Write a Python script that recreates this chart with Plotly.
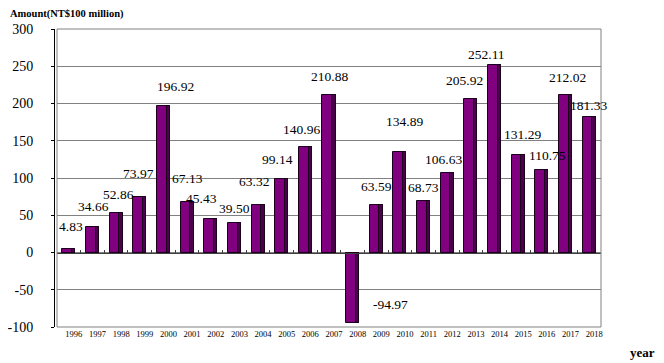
import plotly.graph_objects as go

years = list(range(1996, 2019))
tick_labels = [str(y) for y in years]
amounts = [4.83, 34.66, 52.86, 73.97, 196.92, 67.13, 45.43, 39.50, 63.32, 99.14,
           140.96, 210.88, -94.97, 63.59, 134.89, 68.73, 106.63, 205.92, 252.11,
           131.29, 110.75, 212.02, 181.33]
value_labels = ["4.83", "34.66", "52.86", "73.97", "196.92", "67.13", "45.43", "39.50",
                "63.32", "99.14", "140.96", "210.88", "-94.97", "63.59", "134.89", "68.73",
                "106.63", "205.92", "252.11", "131.29", "110.75", "212.02", "181.33"]
# pixel offsets of the value labels (style only)
label_dx = [2.5, 1, 2, -1, 12, 0, -9, 0, -4, -4, -4, 0, 38, 0, 5, 0, -4, -6, -8, 4, 5.5, 2, -1]
label_dy = [22, 20, 19, 24, 19, 24, 20, 15, 24, 19, 18, 19, 19, 19, 31, 14, 14, 19, 10, 20, 14, 17, 12]

y_ticks = [-100, -50, 0, 50, 100, 150, 200, 250, 300]
y_tick_labels = ["-100", "-50", "0", "50", "100", "150", "200", "250", "300"]

FONT = "Liberation Serif"
BAR_W = 0.55
STRIPE_W = 0.14

fig = go.Figure()
fig.add_trace(go.Bar(
    x=years, y=amounts, width=BAR_W, offset=-BAR_W / 2,
    marker=dict(color="#800080", line=dict(color="#1a001a", width=1)),
    hoverinfo="skip", showlegend=False,
))
fig.add_trace(go.Bar(
    x=years, y=amounts, width=STRIPE_W, offset=BAR_W / 2 - STRIPE_W,
    marker=dict(color="#4a004a", line=dict(color="#1a001a", width=1)),
    hoverinfo="skip", showlegend=False,
))
# axis-like line at zero with category-boundary ticks
fig.add_trace(go.Scatter(x=[years[0]], y=[0], xaxis="x2", mode="markers",
                         marker=dict(opacity=0), hoverinfo="skip", showlegend=False))

for yr, v, t, dx, dy in zip(years, amounts, value_labels, label_dx, label_dy):
    fig.add_annotation(x=yr, y=v, xref="x", yref="y", text=t, showarrow=False,
                       xshift=dx, yshift=dy, xanchor="center", yanchor="middle",
                       font=dict(family=FONT, size=13.5, color="black"))

fig.add_annotation(x=-0.084, y=1.0, xref="paper", yref="paper", yshift=15,
                   text="<b>Amount(NT$100 million)</b>", showarrow=False,
                   xanchor="left", yanchor="middle",
                   font=dict(family=FONT, size=10.5, color="black"))
fig.add_annotation(x=1.075, y=0, xref="paper", yref="paper", yshift=-25,
                   text="<b>year</b>", showarrow=False,
                   xanchor="center", yanchor="middle",
                   font=dict(family=FONT, size=13, color="black"))

# plot frame
fig.add_shape(type="rect", xref="x domain", yref="y domain", x0=0, x1=1, y0=0, y1=1,
              line=dict(color="#808080", width=1), layer="above")

fig.update_layout(
    width=656, height=355,
    margin=dict(l=46, r=63, t=21, b=36),
    paper_bgcolor="white", plot_bgcolor="white",
    barmode="overlay", bargap=0,
    xaxis=dict(
        domain=[0.0055, 1], range=[1995.5, 2018.5], automargin=False,
        tickmode="array", tickvals=years, ticktext=tick_labels,
        ticklabelshift=5, ticks="", showgrid=False, zeroline=False,
        showline=False, tickfont=dict(family=FONT, size=8.5, color="black"),
    ),
    xaxis2=dict(
        overlaying="x", anchor="free", position=0.25, side="bottom",
        domain=[0.0055, 1], range=[1995.5, 2018.5], automargin=False,
        tickmode="array", tickvals=[y + 0.5 for y in [years[0] - 1] + years],
        ticks="inside", ticklen=3, tickcolor="#404040",
        showticklabels=False, showgrid=False, zeroline=False,
        showline=True, linecolor="#404040", linewidth=1,
    ),
    yaxis=dict(
        range=[-100, 300], tickmode="array", tickvals=y_ticks, ticktext=y_tick_labels,
        anchor="free", position=0, automargin=False,
        showgrid=True, gridcolor="#808080", gridwidth=1, zeroline=False,
        showline=True, linecolor="black", linewidth=1,
        ticks="outside", ticklen=3, tickcolor="black", ticklabelstandoff=15,
        tickfont=dict(family=FONT, size=14, color="black"),
    ),
)

fig.write_html("out.html")
